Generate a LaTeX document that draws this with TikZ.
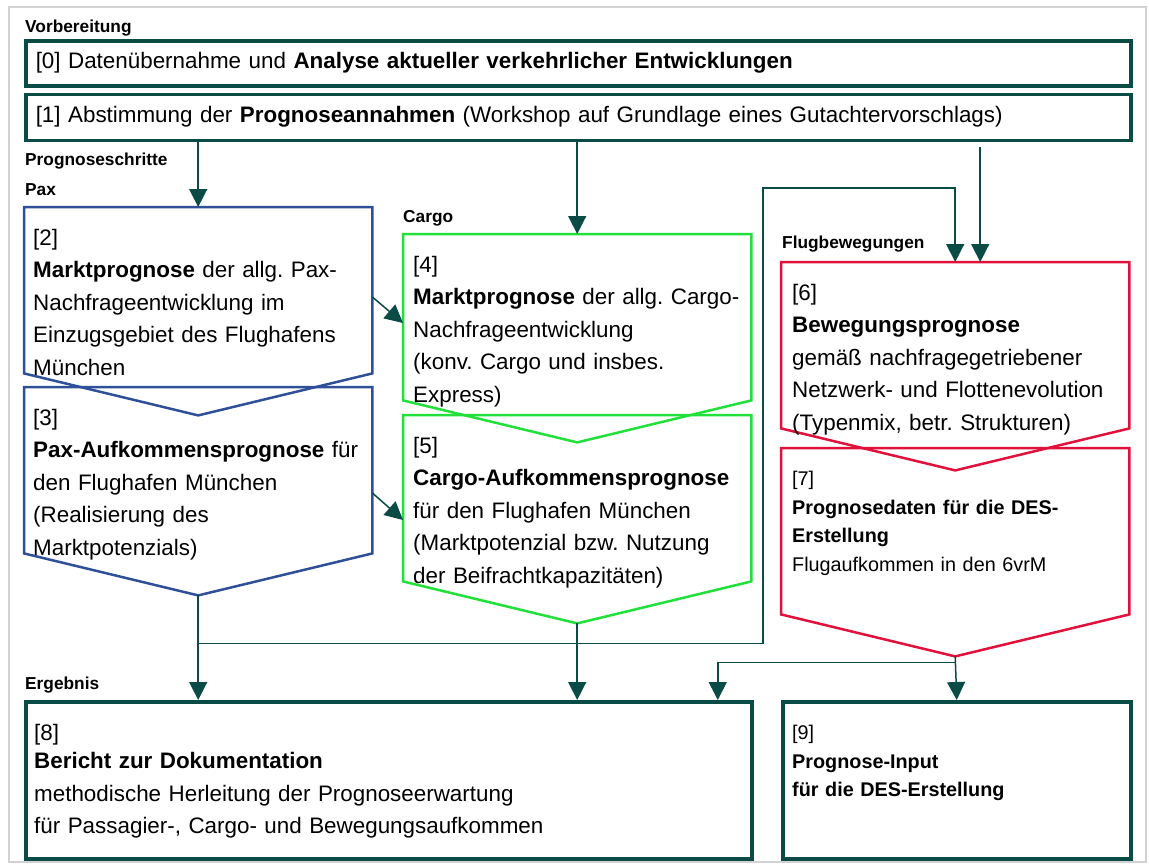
\documentclass[tikz,border=0pt]{standalone}
\usepackage{fontspec}
\setmainfont{Liberation Sans}
\usepackage{xcolor}
\usetikzlibrary{arrows.meta,positioning,calc}
\definecolor{rahmen}{HTML}{0A4B46}
\definecolor{pfeil}{HTML}{0A4B46}
\definecolor{paxblau}{HTML}{2F4F99}
\definecolor{cargogruen}{HTML}{22E03A}
\definecolor{flugrot}{HTML}{E0123C}
\definecolor{rand}{HTML}{D2D2D2}
\frenchspacing

\begin{document}
\begin{tikzpicture}[x=1pt, y=-1pt,
  tbox/.style={rectangle, draw=rahmen, line width=3.5pt, anchor=north west,
    inner xsep=10pt, inner ysep=0pt, align=left,
    font=\fontsize{22.4}{26}\selectfont},
  body/.style={rectangle, minimum width=348pt, minimum height=166pt,
    inner sep=0pt, anchor=north west},
  txt/.style={anchor=north west, inner sep=0pt, align=left, text width=700pt,
    font=\fontsize{22.4}{32.5}\selectfont},
  txtsm/.style={txt, font=\fontsize{19.8}{28.5}\selectfont},
  lbl/.style={anchor=base west, inner sep=0pt,
    font=\fontsize{17.3}{20}\selectfont\bfseries},
  arr/.style={-{Triangle[width=18pt,length=18pt]}, line width=1.5pt, draw=pfeil},
  pax/.style={draw=paxblau, line width=2.5pt},
  cargo/.style={draw=cargogruen, line width=2.5pt},
  flug/.style={draw=flugrot, line width=2.5pt}
]
\useasboundingbox (0,0) rectangle (1149,863);
\draw[rand, line width=2.5pt] (9,7) rectangle (1146,862);

% Vorbereitung
\node[lbl] (LV) at (25,32) {Vorbereitung};
\node[tbox, minimum width=1105pt, minimum height=45pt, text width=1085pt] (V0) at (24,39)
  {[0] Datenübernahme und \textbf{Analyse aktueller verkehrlicher Entwicklungen}};
\node[tbox, minimum width=1105pt, minimum height=46pt, text width=1085pt, below=5pt of V0, anchor=north] (V1)
  {[1] Abstimmung der \textbf{Prognoseannahmen} (Workshop auf Grundlage eines Gutachtervorschlags)};

% Prognoseschritte
\node[lbl] (LP) at (25,165) {Prognoseschritte};
\node[lbl] (LX) at (25,195) {Pax};
\node[lbl] (LC) at (403,222) {Cargo};
\node[lbl] (LF) at (782,248) {Flugbewegungen};

\node[body] (P2) at (24,207) {};
\node[body] (P3) at (24,387) {};
\node[body] (C4) at (403,234) {};
\node[body] (C5) at (403,415) {};
\node[body] (F6) at (781,262) {};
\node[body] (F7) at (781,448) {};

\foreach \n/\c in {P2/pax, P3/pax, C4/cargo, C5/cargo, F6/flug, F7/flug} {
  \coordinate (\n t) at ($(\n.south)+(0,42)$);
  \draw[\c] (\n.north west) -- (\n.north east) -- (\n.south east) -- (\n t)
    -- (\n.south west) -- cycle;
}

\node[txt] at ([xshift=9pt,yshift=-22pt]P2.north west)
  {[2]\\ \textbf{Marktprognose} der allg. Pax-\\ Nachfrageentwicklung im\\ Einzugsgebiet des Flughafens\\ München};
\node[txt] at ([xshift=9pt,yshift=-22pt]P3.north west)
  {[3]\\ \textbf{Pax-Aufkommensprognose} für\\ den Flughafen München\\ (Realisierung des\\ Marktpotenzials)};
\node[txt] at ([xshift=10pt,yshift=-22pt]C4.north west)
  {[4]\\ \textbf{Marktprognose} der allg. Cargo-\\ Nachfrageentwicklung\\ (konv. Cargo und insbes.\\ Express)};
\node[txt] at ([xshift=10pt,yshift=-22pt]C5.north west)
  {[5]\\ \textbf{Cargo-Aufkommensprognose}\\ für den Flughafen München\\ (Marktpotenzial bzw. Nutzung\\ der Beifrachtkapazitäten)};
\node[txt] at ([xshift=11pt,yshift=-22pt]F6.north west)
  {[6]\\ \textbf{Bewegungsprognose}\\ gemäß nachfragegetriebener\\ Netzwerk- und Flottenevolution\\ (Typenmix, betr. Strukturen)};
\node[txtsm] at ([xshift=11pt,yshift=-23pt]F7.north west)
  {[7]\\ \textbf{Prognosedaten für die DES-}\\ \textbf{Erstellung}\\ Flugaufkommen in den 6vrM};

% Ergebnis
\node[lbl] (LE) at (25,689) {Ergebnis};
\node[tbox, minimum width=726pt, minimum height=157pt] (E8) at (24,700) {};
\node[tbox, minimum width=348pt, minimum height=157pt] (E9) at (781,700) {};
\node[txt] at ([xshift=10pt,yshift=-24pt]E8.north west)
  {[8]\\[-4pt] \textbf{Bericht zur Dokumentation}\\ methodische Herleitung der Prognoseerwartung\\ für Passagier-, Cargo- und Bewegungsaufkommen};
\node[txtsm] at ([xshift=11pt,yshift=-25pt]E9.north west)
  {[9]\\ \textbf{Prognose-Input}\\ \textbf{für die DES-Erstellung}};

% connectors
\coordinate (FA) at ([xshift=25pt]F6.north);
\coordinate (KN) at (763,188);
\coordinate (JP) at ($(P3t)+(0,48)$);
\coordinate (JF) at ($(F7t)+(0,6)$);
\draw[arr] (V1.south -| P2.north) -- (P2.north);
\draw[arr] (V1.south -| C4.north) -- (C4.north);
\draw[arr, shorten <=5pt] (V1.south -| FA) -- (FA);
\draw[arr] ([yshift=-90pt]P2.north east) -- ([yshift=-89pt]C4.north west);
\draw[arr] ([yshift=-106pt]P3.north east) -- ([yshift=-105pt]C5.north west);
\draw[arr] (P3t) -- (P3t |- E8.north);
\draw[arr] (C5t) -- (C5t |- E8.north);
\draw[arr] (JP) -| (KN) -| (F6.north);
\draw[arr] (F7t) -- (E9.north);
\draw[arr] (JF) -| ([xshift=329pt]E8.north);
\end{tikzpicture}
\end{document}
